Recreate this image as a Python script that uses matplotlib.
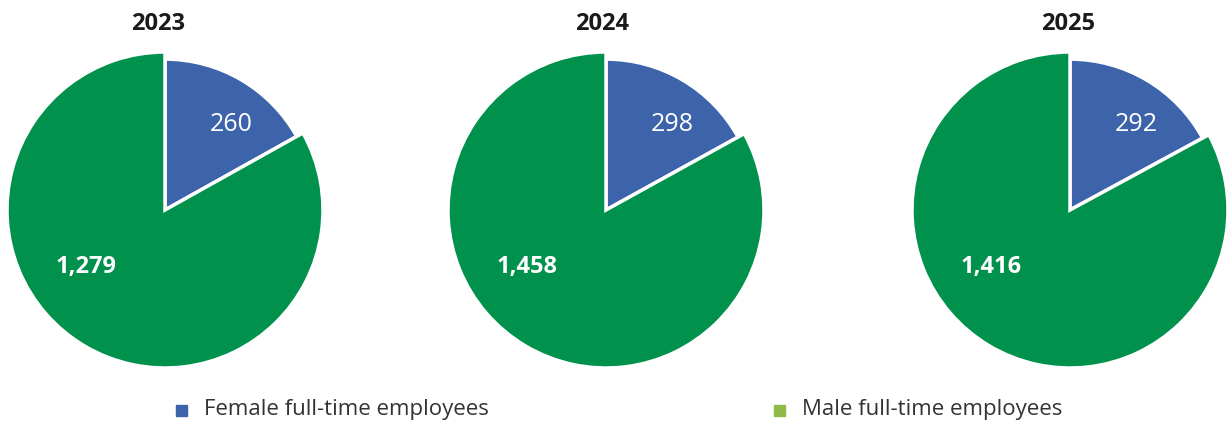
import matplotlib.pyplot as plt

years = ['2023', '2024', '2025']
female = [260, 298, 292]
male = [1279, 1458, 1416]
legend_labels = ['Female full-time employees', 'Male full-time employees']

BLUE = '#3d64ab'
GREEN = '#00914c'
LEGEND_GREEN = '#8fba48'

plt.rcParams['font.family'] = ['Open Sans', 'DejaVu Sans']

fig = plt.figure(figsize=(12.27, 4.21), dpi=100)

# pie centres in pixels (x), shared y / radius
centres = [165, 606, 1070]
title_x = [158, 602, 1068]
cy, r = 210, 158
W, H = 1227, 421

for year, f, m, cx, tx in zip(years, female, male, centres, title_x):
    ax = fig.add_axes([(cx - r) / W, (H - cy - r) / H, 2 * r / W, 2 * r / H])
    wedges, _ = ax.pie([f, m], colors=[BLUE, GREEN], startangle=90, counterclock=False,
                       wedgeprops=dict(edgecolor='white', linewidth=2.5))
    wedges[0].set_radius(0.955)
    ax.set_xlim(-1, 1)
    ax.set_ylim(-1, 1)
    ax.text(0.42, 0.54, f'{f:,}', color='white', fontsize=18, ha='center', va='center')
    ax.text(-0.5, -0.36, f'{m:,}', color='white', fontsize=17, fontweight='bold',
            ha='center', va='center')
    fig.text(tx / W, (H - 24) / H, year, fontsize=17, fontweight='bold', color='#1a1a1a',
             ha='center', va='center')

# legend as two separate entries spaced across the bottom
for label, color, x in zip(legend_labels, [BLUE, LEGEND_GREEN], [181, 779]):
    fig.patches.append(plt.Rectangle(((x - 5) / W, (H - 416) / H), 11 / W, 11 / H,
                                     color=color, transform=fig.transFigure, figure=fig))
    fig.text((x + 23) / W, (H - 410) / H, label, fontsize=16, color='#333333',
             ha='left', va='center')

fig.savefig('out.png', dpi=100)
